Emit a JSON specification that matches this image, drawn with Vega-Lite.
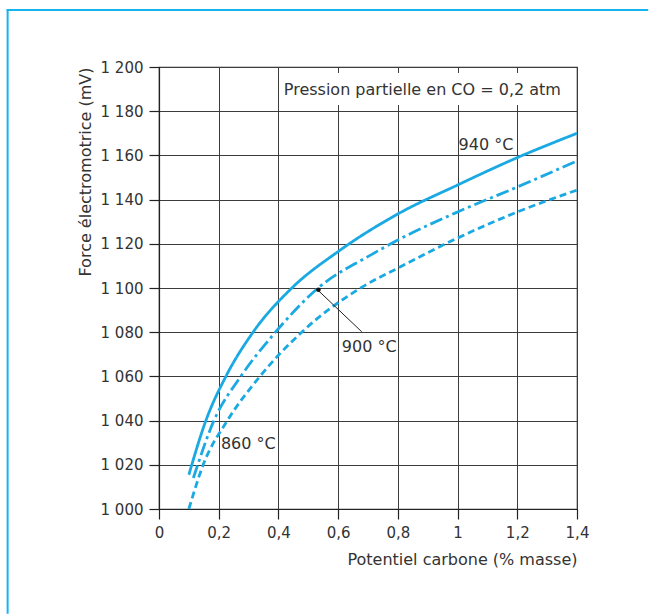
{
  "$schema": "https://vega.github.io/schema/vega-lite/v6.json",
  "width": 418,
  "height": 442,
  "autosize": {"type": "none"},
  "padding": {"left": 159, "top": 67, "right": 74, "bottom": 107},
  "background": "white",
  "config": {
    "font": "DejaVu Sans",
    "view": {"stroke": "#333333", "strokeWidth": 1.2}
  },
  "datasets": {
    "curves": [
      {"c": 0.1, "fem": 1015.5, "temp": "940"},
      {"c": 0.157, "fem": 1040, "temp": "940"},
      {"c": 0.224, "fem": 1060, "temp": "940"},
      {"c": 0.315, "fem": 1080, "temp": "940"},
      {"c": 0.445, "fem": 1100, "temp": "940"},
      {"c": 0.6, "fem": 1116.5, "temp": "940"},
      {"c": 0.8, "fem": 1133.5, "temp": "940"},
      {"c": 1.0, "fem": 1146.6, "temp": "940"},
      {"c": 1.2, "fem": 1159, "temp": "940"},
      {"c": 1.4, "fem": 1170, "temp": "940"},
      {"c": 0.115, "fem": 1014, "temp": "900"},
      {"c": 0.184, "fem": 1040, "temp": "900"},
      {"c": 0.274, "fem": 1060, "temp": "900"},
      {"c": 0.39, "fem": 1080, "temp": "900"},
      {"c": 0.533, "fem": 1100, "temp": "900"},
      {"c": 0.71, "fem": 1115, "temp": "900"},
      {"c": 0.8, "fem": 1121.7, "temp": "900"},
      {"c": 1.0, "fem": 1134.4, "temp": "900"},
      {"c": 1.2, "fem": 1145.7, "temp": "900"},
      {"c": 1.4, "fem": 1157.5, "temp": "900"},
      {"c": 0.1, "fem": 1000, "temp": "860"},
      {"c": 0.148, "fem": 1020, "temp": "860"},
      {"c": 0.229, "fem": 1040, "temp": "860"},
      {"c": 0.338, "fem": 1060, "temp": "860"},
      {"c": 0.478, "fem": 1080, "temp": "860"},
      {"c": 0.675, "fem": 1100, "temp": "860"},
      {"c": 0.8, "fem": 1109, "temp": "860"},
      {"c": 1.0, "fem": 1122.6, "temp": "860"},
      {"c": 1.2, "fem": 1134.4, "temp": "860"},
      {"c": 1.4, "fem": 1144.3, "temp": "860"}
    ],
    "labels": [
      {"c": 1.095, "fem": 1164.7, "text": "940 °C"},
      {"c": 0.704, "fem": 1073.5, "text": "900 °C"},
      {"c": 0.299, "fem": 1029.4, "text": "860 °C"}
    ]
  },
  "layer": [
    {
      "data": {"values": [{"a": 1}]},
      "mark": {"type": "rect", "fill": "white", "stroke": null},
      "encoding": {
        "x": {"datum": 0.405, "type": "quantitative", "scale": {"domain": [0, 1.4], "nice": false, "zero": false},
          "axis": {"title": "Potentiel carbone (% masse)", "titleAnchor": "end", "values": [0, 0.2, 0.4, 0.6, 0.8, 1, 1.2, 1.4],
            "labelExpr": "replace(format(datum.value, '~g'), '.', ',')", "labelPadding": 6, "titlePadding": 11, "grid": true, "labelFlush": false,
            "gridColor": "#3c3c3c", "gridOpacity": 1, "gridWidth": 1,
            "domainColor": "#222222", "tickColor": "#222222", "tickWidth": 1.2, "domainWidth": 1.2, "tickSize": 10,
            "labelFont": "DejaVu Sans", "labelFontSize": 15, "labelColor": "#333333",
            "titleFont": "DejaVu Sans", "titleFontSize": 16, "titleFontWeight": "normal", "titleColor": "#333333"}},
        "x2": {"datum": 1.37},
        "y": {"datum": 1197.3, "type": "quantitative", "scale": {"domain": [1000, 1200], "nice": false, "zero": false},
          "axis": {"title": "Force électromotrice (mV)", "titleAnchor": "end", "values": [1000, 1020, 1040, 1060, 1080, 1100, 1120, 1140, 1160, 1180, 1200],
            "labelExpr": "replace(format(datum.value, ','), ',', ' ')", "labelPadding": 6, "titlePadding": 7, "grid": true, "labelFlush": false,
            "gridColor": "#3c3c3c", "gridOpacity": 1, "gridWidth": 1,
            "domainColor": "#222222", "tickColor": "#222222", "tickWidth": 1.2, "domainWidth": 1.2, "tickSize": 10,
            "labelFont": "DejaVu Sans", "labelFontSize": 15, "labelColor": "#333333",
            "titleFont": "DejaVu Sans", "titleFontSize": 16, "titleFontWeight": "normal", "titleColor": "#333333"}},
        "y2": {"datum": 1182.8}
      }
    },
    {
      "data": {"values": [{"t": "Pression partielle en CO = 0,2 atm"}]},
      "mark": {"type": "text", "align": "left", "baseline": "middle", "fontSize": 16, "color": "#333333"},
      "encoding": {
        "x": {"datum": 0.418, "type": "quantitative"},
        "y": {"datum": 1189.5, "type": "quantitative"},
        "text": {"field": "t"}
      }
    },
    {
      "data": {"name": "curves"},
      "mark": {"type": "line", "color": "#1aa9e3", "strokeWidth": 2.8, "interpolate": "monotone", "strokeCap": "butt"},
      "encoding": {
        "x": {"field": "c", "type": "quantitative"},
        "y": {"field": "fem", "type": "quantitative"},
        "detail": {"field": "temp"},
        "strokeDash": {"field": "temp", "type": "nominal", "legend": null,
          "scale": {"domain": ["940", "900", "860"], "range": [[1, 0], [13, 4, 3, 4], [7, 4]]}}
      }
    },
    {
      "data": {"values": [{"a": 1}]},
      "mark": {"type": "rule", "color": "#222222", "strokeWidth": 1},
      "encoding": {
        "x": {"datum": 0.534, "type": "quantitative"},
        "y": {"datum": 1098.8, "type": "quantitative"},
        "x2": {"datum": 0.679},
        "y2": {"datum": 1080.2}
      }
    },
    {
      "data": {"values": [{"a": 1}]},
      "mark": {"type": "point", "filled": true, "color": "#111111", "size": 22, "opacity": 1},
      "encoding": {
        "x": {"datum": 0.534, "type": "quantitative"},
        "y": {"datum": 1099.2, "type": "quantitative"}
      }
    },
    {
      "data": {"name": "labels"},
      "mark": {"type": "text", "align": "center", "baseline": "middle", "fontSize": 16, "color": "#333333"},
      "encoding": {
        "x": {"field": "c", "type": "quantitative"},
        "y": {"field": "fem", "type": "quantitative"},
        "text": {"field": "text"}
      }
    },
    {
      "data": {"values": [{"a": 1}]},
      "mark": {"type": "rule", "color": "#14b4ee", "strokeWidth": 2, "clip": false, "strokeCap": "square"},
      "encoding": {
        "x": {"datum": -0.507, "type": "quantitative"},
        "x2": {"datum": -0.507},
        "y": {"datum": 1225.8, "type": "quantitative"},
        "y2": {"datum": 953}
      }
    },
    {
      "data": {"values": [{"a": 1}]},
      "mark": {"type": "rule", "color": "#14b4ee", "strokeWidth": 2, "clip": false, "strokeCap": "square"},
      "encoding": {
        "x": {"datum": -0.507, "type": "quantitative"},
        "x2": {"datum": 1.635},
        "y": {"datum": 1225.8, "type": "quantitative"},
        "y2": {"datum": 1225.8}
      }
    }
  ]
}
